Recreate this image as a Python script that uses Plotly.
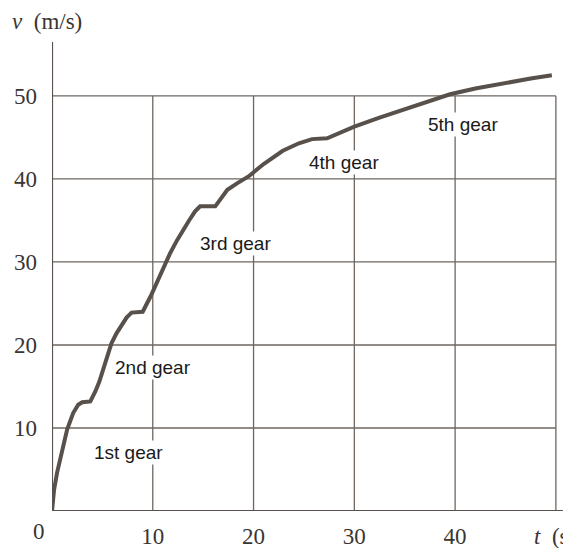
import plotly.graph_objects as go

# Data
t_vals = [0, 0.2, 0.5, 0.8, 1.1, 1.5, 2.1, 2.6, 3.0, 3.8, 4.3, 4.7, 5.3, 5.9, 6.4, 6.9, 7.4, 7.9, 9.0, 9.8, 10.5,
          11.0, 11.7, 12.4, 13.0, 13.6, 14.2, 14.7, 16.2, 16.8, 17.4, 18.4, 19.5, 21.0, 22.0, 22.9, 24.5,
          25.8, 27.3, 30, 32.5, 35, 37.5, 39.5, 42, 45, 47.5, 49.6]
v_vals = [0, 2.5, 4.6, 6.1, 7.8, 9.8, 11.8, 12.8, 13.1, 13.2, 14.4, 15.6, 17.9, 20.2, 21.4, 22.4, 23.3, 23.9, 24.0, 25.9, 27.8,
          29.3, 31.0, 32.6, 33.9, 35.0, 36.1, 36.7, 36.7, 37.8, 38.7, 39.5, 40.3, 41.8, 42.7, 43.4, 44.3,
          44.8, 44.9, 46.3, 47.4, 48.4, 49.4, 50.2, 50.9, 51.6, 52.1, 52.5]

x_ticks = [10, 20, 30, 40]
y_ticks = [10, 20, 30, 40, 50]
grid_vals = [10, 20, 30, 40, 50]

gear_labels = ["1st gear", "2nd gear", "3rd gear", "4th gear", "5th gear"]
gear_t = [7.6, 10.0, 18.2, 29.0, 40.8]
gear_v = [7.0, 17.3, 32.2, 42.0, 46.6]

line_col = "#58504b"
grid_col = "#6e6660"
axis_col = "#5a524e"
text_col = "#3a3532"

X_MAX = 51.5
Y_MAX = 56.5
GRID_MAX = 50

fig = go.Figure()
fig.add_trace(go.Scatter(x=t_vals, y=v_vals, mode="lines",
                         line=dict(color=line_col, width=4, shape="linear"),
                         hoverinfo="skip", showlegend=False))

shapes = []
for g in grid_vals:
    shapes.append(dict(type="line", xref="x", yref="y", x0=g, x1=g, y0=0, y1=GRID_MAX,
                       line=dict(color=grid_col, width=1.3), layer="below"))
    shapes.append(dict(type="line", xref="x", yref="y", x0=0, x1=GRID_MAX, y0=g, y1=g,
                       line=dict(color=grid_col, width=1.3), layer="below"))
# axes
shapes.append(dict(type="line", xref="x", yref="y", x0=0, x1=0, y0=0, y1=Y_MAX,
                   line=dict(color=axis_col, width=2.2), layer="below"))
shapes.append(dict(type="line", xref="x", yref="y", x0=0, x1=X_MAX, y0=0, y1=0,
                   line=dict(color=axis_col, width=2.2), layer="below"))

annotations = []
for lab, tx, vy in zip(gear_labels, gear_t, gear_v):
    annotations.append(dict(x=tx, y=vy, xref="x", yref="y", text=lab, showarrow=False,
                            font=dict(family="Liberation Sans, Arial", size=19, color="#1a1a1a"),
                            bgcolor="white", borderpad=1))
annotations.append(dict(x=0, y=0, xref="x", yref="y", text="0", showarrow=False,
                        xanchor="right", yanchor="top", xshift=-5, yshift=-6,
                        font=dict(family="Liberation Serif, Times New Roman", size=23, color=text_col)))
annotations.append(dict(x=0, y=1, xref="paper", yref="paper", text="<i>v</i>  (m/s)", showarrow=False,
                        xanchor="left", yanchor="bottom", xshift=-42, yshift=6,
                        font=dict(family="Liberation Serif, Times New Roman", size=23, color=text_col)))
annotations.append(dict(x=X_MAX, y=0, xref="x", yref="y", text="<i>t</i>  (s)", showarrow=False,
                        xanchor="left", yanchor="top", xshift=-39, yshift=-11,
                        font=dict(family="Liberation Serif, Times New Roman", size=23, color=text_col)))

fig.update_layout(
    width=563, height=540,
    margin=dict(l=44, r=0, t=34, b=37),
    paper_bgcolor="white", plot_bgcolor="white",
    shapes=shapes, annotations=annotations,
    xaxis=dict(range=[0, X_MAX], tickvals=x_ticks, ticktext=[str(v) for v in x_ticks],
               showgrid=False, zeroline=False, showline=False, ticks="", automargin=False,
               ticklabelstandoff=9,
               tickfont=dict(family="Liberation Serif, Times New Roman", size=23, color=text_col)),
    yaxis=dict(range=[0, Y_MAX], tickvals=y_ticks, ticktext=[str(v) for v in y_ticks],
               showgrid=False, zeroline=False, showline=False, ticks="", automargin=False,
               ticklabelstandoff=14,
               tickfont=dict(family="Liberation Serif, Times New Roman", size=23, color=text_col)),
)

fig.write_html("out.html")
